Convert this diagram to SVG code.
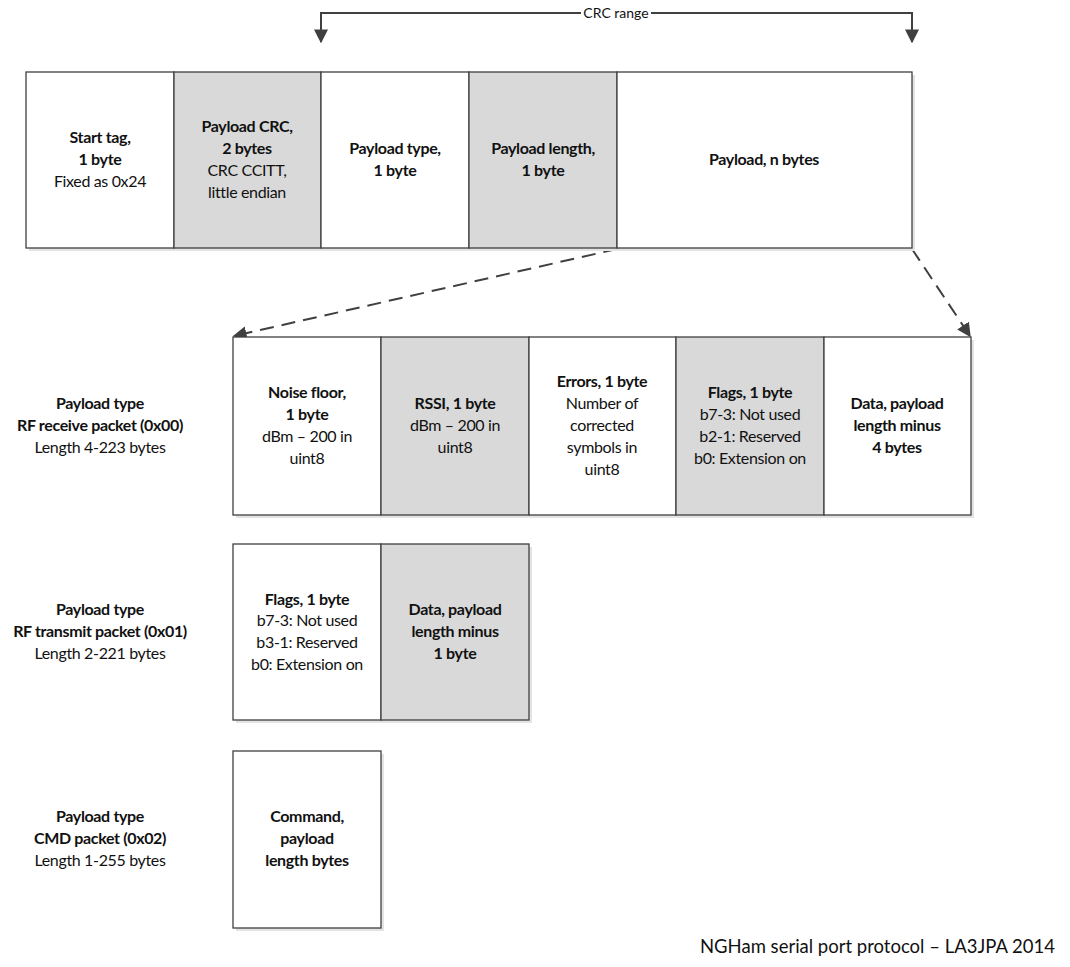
<svg xmlns="http://www.w3.org/2000/svg" width="1070" height="967" viewBox="0 0 1070 967">
<style>
text{font-family:Lato,"Liberation Sans",sans-serif;font-size:16px;letter-spacing:-0.35px;fill:#111;text-anchor:middle}
.b{font-weight:bold}
.box{stroke:#404040;stroke-width:1.3}
.w{fill:#fff}
.g{fill:#d9d9d9}
.sh{fill:#e3e3e3}
.conn{stroke:#404040;stroke-width:2;fill:none}
.dash{stroke-dasharray:14,8}
</style>
<defs>
<marker id="ah" viewBox="0 0 10 10" refX="9" refY="5" markerWidth="7" markerHeight="7" orient="auto" markerUnits="strokeWidth">
<path d="M0,0 L10,5 L0,10 z" fill="#404040"/>
</marker>
</defs>
<rect width="1070" height="967" fill="#fff"/>

<g id="connectors">
<path class="conn" d="M581,13 H321 V42" marker-end="url(#ah)"/>
<path class="conn" d="M651,13 H912 V42" marker-end="url(#ah)"/>
<text x="616" y="18" style="font-size:14px;letter-spacing:0">CRC range</text>
<path class="conn dash" d="M617,249 L234,336" marker-end="url(#ah)"/>
<path class="conn dash" d="M912,249 L970,336" marker-end="url(#ah)"/>
</g>

<g id="shadows">
<rect class="sh" x="29" y="75" width="886" height="176"/>
<rect class="sh" x="236" y="340" width="738" height="178"/>
<rect class="sh" x="236" y="547" width="296" height="176"/>
<rect class="sh" x="236" y="754" width="148" height="177"/>
</g>

<g id="start-tag">
<rect class="box w" x="26" y="72" width="148" height="176"/>
<text class="b" x="100" y="143">Start tag,</text>
<text class="b" x="100" y="165">1 byte</text>
<text x="100" y="187">Fixed as 0x24</text>
</g>
<g id="payload-crc">
<rect class="box g" x="174" y="72" width="147" height="176"/>
<text class="b" x="247" y="132">Payload CRC,</text>
<text class="b" x="247" y="154">2 bytes</text>
<text x="247" y="176">CRC CCITT,</text>
<text x="247" y="198">little endian</text>
</g>
<g id="payload-type">
<rect class="box w" x="321" y="72" width="148" height="176"/>
<text class="b" x="395" y="154">Payload type,</text>
<text class="b" x="395" y="176">1 byte</text>
</g>
<g id="payload-length">
<rect class="box g" x="469" y="72" width="148" height="176"/>
<text class="b" x="543" y="154">Payload length,</text>
<text class="b" x="543" y="176">1 byte</text>
</g>
<g id="payload">
<rect class="box w" x="617" y="72" width="295" height="176"/>
<text class="b" x="764" y="165">Payload, n bytes</text>
</g>

<g id="label-rx">
<text class="b" x="100" y="409">Payload type</text>
<text class="b" x="100" y="431">RF receive packet (0x00)</text>
<text x="100" y="453">Length 4-223 bytes</text>
</g>
<g id="noise-floor">
<rect class="box w" x="233" y="337" width="148" height="178"/>
<text class="b" x="307" y="398">Noise floor,</text>
<text class="b" x="307" y="420">1 byte</text>
<text x="307" y="442">dBm – 200 in</text>
<text x="307" y="464">uint8</text>
</g>
<g id="rssi">
<rect class="box g" x="381" y="337" width="148" height="178"/>
<text class="b" x="455" y="409">RSSI, 1 byte</text>
<text x="455" y="431">dBm – 200 in</text>
<text x="455" y="453">uint8</text>
</g>
<g id="errors">
<rect class="box w" x="529" y="337" width="147" height="178"/>
<text class="b" x="602" y="387">Errors, 1 byte</text>
<text x="602" y="409">Number of</text>
<text x="602" y="431">corrected</text>
<text x="602" y="453">symbols in</text>
<text x="602" y="475">uint8</text>
</g>
<g id="flags-rx">
<rect class="box g" x="676" y="337" width="148" height="178"/>
<text class="b" x="750" y="398">Flags, 1 byte</text>
<text x="750" y="420">b7-3: Not used</text>
<text x="750" y="442">b2-1: Reserved</text>
<text x="750" y="464">b0: Extension on</text>
</g>
<g id="data-rx">
<rect class="box w" x="824" y="337" width="147" height="178"/>
<text class="b" x="897" y="409">Data, payload</text>
<text class="b" x="897" y="431">length minus</text>
<text class="b" x="897" y="453">4 bytes</text>
</g>

<g id="label-tx">
<text class="b" x="100" y="615">Payload type</text>
<text class="b" x="100" y="637">RF transmit packet (0x01)</text>
<text x="100" y="659">Length 2-221 bytes</text>
</g>
<g id="flags-tx">
<rect class="box w" x="233" y="544" width="148" height="176"/>
<text class="b" x="307" y="605">Flags, 1 byte</text>
<text x="307" y="626">b7-3: Not used</text>
<text x="307" y="648">b3-1: Reserved</text>
<text x="307" y="670">b0: Extension on</text>
</g>
<g id="data-tx">
<rect class="box g" x="381" y="544" width="148" height="176"/>
<text class="b" x="455" y="615">Data, payload</text>
<text class="b" x="455" y="637">length minus</text>
<text class="b" x="455" y="659">1 byte</text>
</g>

<g id="label-cmd">
<text class="b" x="100" y="822">Payload type</text>
<text class="b" x="100" y="844">CMD packet (0x02)</text>
<text x="100" y="866">Length 1-255 bytes</text>
</g>
<g id="command">
<rect class="box w" x="233" y="751" width="148" height="177"/>
<text class="b" x="307" y="822">Command,</text>
<text class="b" x="307" y="844">payload</text>
<text class="b" x="307" y="866">length bytes</text>
</g>

<text x="1055" y="953" style="text-anchor:end;font-size:18.5px;letter-spacing:0">NGHam serial port protocol – LA3JPA 2014</text>
</svg>
